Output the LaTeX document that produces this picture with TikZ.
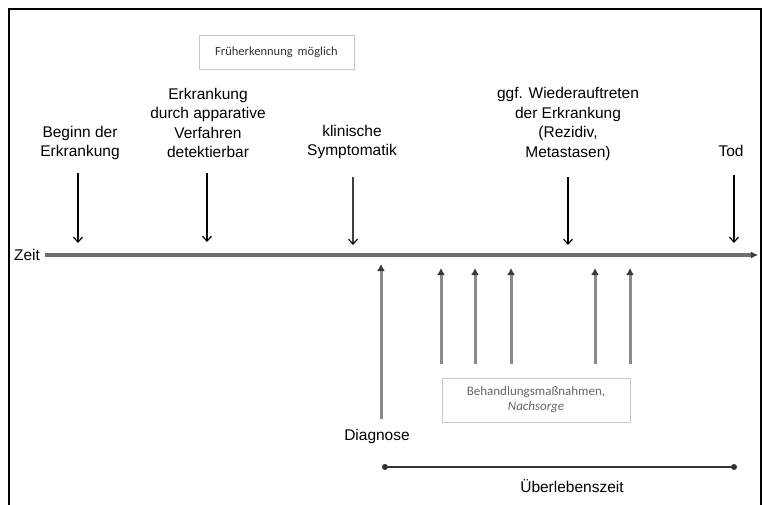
\documentclass[tikz,border=0pt]{standalone}
\usepackage{fontspec}
\setmainfont{Liberation Sans}
\newfontfamily\boxfont{Carlito}
\usetikzlibrary{arrows.meta,shadows}
\definecolor{axisgray}{HTML}{6E6E6E}
\definecolor{treatgray}{HTML}{8A8A8A}
\definecolor{tipgray}{HTML}{3A3A3A}
\definecolor{boxline}{HTML}{C8C8C8}
\begin{document}
\begin{tikzpicture}[x=1pt,y=-1pt,
  lbl/.style={align=center,inner sep=0pt,font=\fontsize{15.5}{19.5}\selectfont},
  event/.style={draw=black,line width=1.2pt,-{Straight Barb[length=5pt,width=9pt]}},
  softevent/.style={draw=black!75,line width=1.1pt,-{Straight Barb[length=5pt,width=9pt,color=black]}},
  treat/.style={draw=treatgray,line width=3pt,-{Latex[length=7pt,width=8pt,color=tipgray]}},
  notebox/.style={draw=boxline,line width=0.8pt,fill=white,inner sep=0pt,
    drop shadow={opacity=0.12,shadow xshift=1.2pt,shadow yshift=-1.2pt}},
  endpoint/.style={circle,fill=black!80,inner sep=0pt,minimum size=6pt}]
\useasboundingbox (0,0) rectangle (763,505);
\fill[white] (0,0) rectangle (763,505);
% open frame
\draw[line width=1.5pt] (9,505) -- (9,9) -- (761,9) -- (761,505);

% time axis
\node[lbl,anchor=base] (zeit) at (27,260) {Zeit};
\coordinate (t0) at (45,255);
\coordinate (t1) at (758,255);
\draw[draw=axisgray,line width=3.6pt,-{Latex[length=7pt,width=7pt,color=tipgray]}] (t0) -- (t1);

% events above the axis
\node[lbl] (beginn) at (80,143) {Beginn der\\Erkrankung};
\node[lbl] (detekt) at (208,123) {Erkrankung\\durch apparative\\Verfahren\\detektierbar};
\node[lbl] (klin) at (352,142) {klinische\\Symptomatik};
\node[lbl] (rezidiv) at (568,124) {ggf. Wiederauftreten\\der Erkrankung\\(Rezidiv,\\Metastasen)};
\node[lbl,anchor=base] (tod) at (731,157) {Tod};

\coordinate (a1s) at (78,173);  \coordinate (a1e) at (78,243);
\coordinate (a2s) at (207,173); \coordinate (a2e) at (207,242);
\coordinate (a3s) at (353,177); \coordinate (a3e) at (353,245);
\coordinate (a4s) at (568,177); \coordinate (a4e) at (568,245);
\coordinate (a5s) at (734,175); \coordinate (a5e) at (734,243);
\draw[event] (a1s) -- (a1e);
\draw[event] (a2s) -- (a2e);
\draw[softevent] (a3s) -- (a3e);
\draw[event] (a4s) -- (a4e);
\draw[event] (a5s) -- (a5e);

% early detection window
\node[notebox,minimum width=155pt,minimum height=34pt] (frueh) at (276.5,52)
  {\boxfont\fontsize{12.5}{15}\selectfont\color{black!80}Früherkennung\hspace{5pt}möglich};

% diagnosis and treatments below the axis
\node[lbl,anchor=base] (diag) at (377,440) {Diagnose};
\coordinate (d0) at (381,419); \coordinate (d1) at (381,264);
\draw[treat] (d0) -- (d1);

\foreach \x [count=\i] in {441,475,511,595,630}{
  \coordinate (b\i s) at (\x,364);
  \coordinate (b\i e) at (\x,268);
  \draw[treat] (b\i s) -- (b\i e);
}

\node[notebox,minimum width=188pt,minimum height=44pt,align=center,
  font=\boxfont\fontsize{13}{15}\selectfont,text=black!60] (behandl) at (536,400)
  {Behandlungsmaßnahmen,\\\textit{Nachsorge}};

% survival span
\node[endpoint] (s0) at (385,467) {};
\node[endpoint] (s1) at (734,467) {};
\draw[line width=1.8pt,black!80] (s0) -- (s1);
\node[lbl,anchor=base] (ueber) at (572,492) {Überlebenszeit};
\end{tikzpicture}
\end{document}
